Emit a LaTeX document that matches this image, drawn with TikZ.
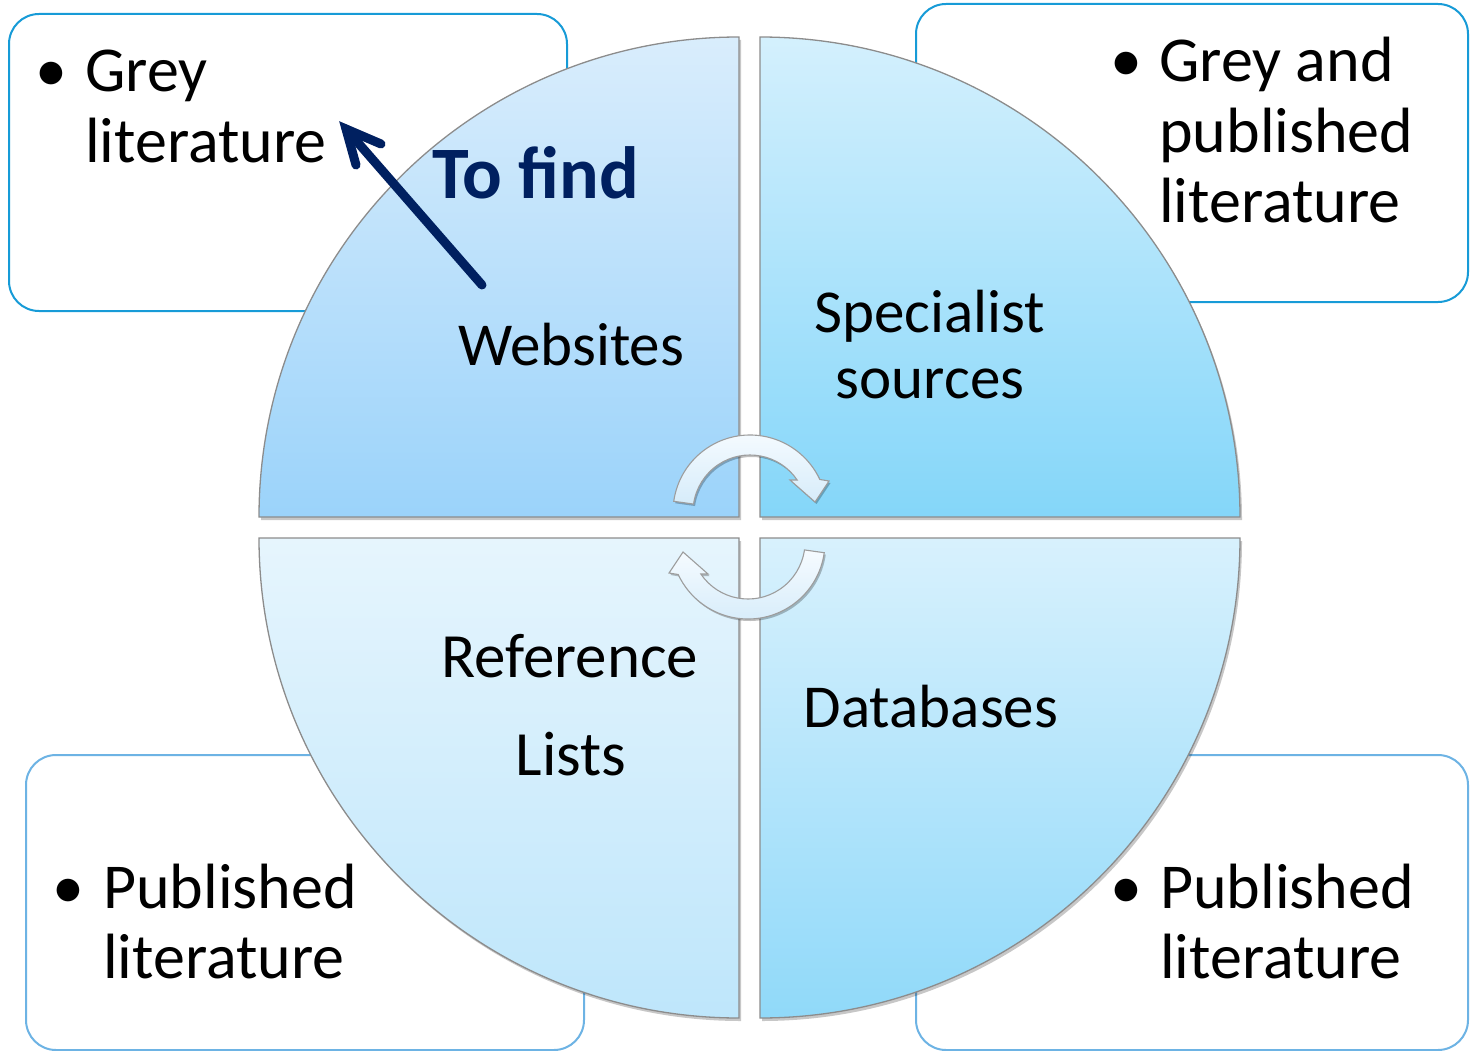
\documentclass[tikz,border=0pt]{standalone}
\usepackage{fontspec}
\setmainfont{Carlito}
\usetikzlibrary{shadows}

\definecolor{edgeA}{HTML}{179BD7}
\definecolor{edgeB}{HTML}{6DB3E4}
\definecolor{navy}{HTML}{002060}
\definecolor{quadline}{HTML}{8C8C8C}
\definecolor{tlTop}{HTML}{D9EDFC}
\definecolor{tlBot}{HTML}{9BD3FA}
\definecolor{trTop}{HTML}{D4F0FD}
\definecolor{trBot}{HTML}{84D6F9}
\definecolor{blTop}{HTML}{E6F5FD}
\definecolor{blBot}{HTML}{BEE6FB}
\definecolor{brTop}{HTML}{D8F1FD}
\definecolor{brBot}{HTML}{90D9F9}
\definecolor{turnTop}{HTML}{F6FBFF}
\definecolor{turnBot}{HTML}{D6ECFA}

\begin{document}
\begin{tikzpicture}[x=1pt,y=-1pt,
  infobox/.style={fill=white, line width=2pt, rounded corners=30pt},
  quad/.style={draw=quadline, line width=1.3pt,
    drop shadow={shadow xshift=2pt, shadow yshift=-3pt, opacity=0.22, fill=black}},
  turnarrow/.style={draw=quadline!85, line width=1.1pt, top color=turnTop, bottom color=turnBot,
    drop shadow={shadow xshift=1.5pt, shadow yshift=-2pt, opacity=0.25, fill=black}},
  lbl/.style={font=\fontsize{61}{61}\selectfont, inner sep=0pt, anchor=base west},
  lblc/.style={lbl, anchor=base},
  boxlbl/.style={lbl, font=\fontsize{64}{64}\selectfont},
  dot/.style={boxlbl, anchor=base},
  findlbl/.style={font=\fontsize{74}{74}\selectfont\bfseries, text=navy, inner sep=0pt, anchor=base west},
  findarrow/.style={draw=navy, line width=9pt, line join=miter, line cap=round},
  turn/.pic={
    \path[turnarrow] (188:77) arc[start angle=188, end angle=335, radius=77]
      -- (79,-31) -- (65,-10) -- (40,-32) -- (325.8:57)
      arc[start angle=325.8, end angle=188, radius=57] -- cycle;
  }
]
\useasboundingbox (0,0) rectangle (1470,1051);
\clip (0,0) rectangle (1470,1051);

% text boxes behind the circle
\path[infobox, draw=edgeA] (9,14) rectangle (567,311);
\path[infobox, draw=edgeA] (916,4) rectangle (1468,302);
\path[infobox, draw=edgeB] (26,755) rectangle (584,1050);
\path[infobox, draw=edgeB] (916,755) rectangle (1468,1050);

% four quarter discs
\path[quad, top color=tlTop, bottom color=tlBot]
  (739,517) -- (259,517) arc[start angle=180, end angle=270, radius=480] -- cycle;
\path[quad, top color=trTop, bottom color=trBot]
  (760,517) -- (760,37) arc[start angle=270, end angle=360, radius=480] -- cycle;
\path[quad, top color=brTop, bottom color=brBot]
  (760,538) -- (1240,538) arc[start angle=0, end angle=90, radius=480] -- cycle;
\path[quad, top color=blTop, bottom color=blBot]
  (739,538) -- (739,1018) arc[start angle=90, end angle=180, radius=480] -- cycle;

% cycle arrows in the middle
\pic at (750,512) {turn};
\pic[rotate=180] at (748,542) {turn};

% box texts
\node[dot] (dotTL) at (51,92) {\textbullet};
\node[boxlbl] (greyA) at (85,92) {Grey};
\node[boxlbl] (greyB) at (85,163) {literature};

\node[dot] (dotTR) at (1126,82) {\textbullet};
\node[boxlbl] (bothA) at (1159,82) {Grey and};
\node[boxlbl] (bothB) at (1159,153) {published};
\node[boxlbl] (bothC) at (1159,223) {literature};

\node[dot] (dotBL) at (68,908) {\textbullet};
\node[boxlbl] (pubLA) at (103,908) {Published};
\node[boxlbl] (pubLB) at (103,978) {literature};

\node[dot] (dotBR) at (1126,908) {\textbullet};
\node[boxlbl] (pubRA) at (1160,908) {Published};
\node[boxlbl] (pubRB) at (1160,978) {literature};

% quadrant texts
\node[findlbl] (find) at (432,199) {To find};
\node[lbl] (web) at (458,365) {Websites};
\node[lblc] (specA) at (930,332) {Specialist};
\node[lblc] (specB) at (930,398) {sources};
\node[lblc, font=\fontsize{63}{63}\selectfont] (refA) at (570,677) {Reference};
\node[lblc, font=\fontsize{63}{63}\selectfont] (refB) at (571,775) {Lists};
\node[lblc] (dbs) at (931,727) {Databases};

% pointer towards grey literature
\coordinate (fstart) at (482,285);
\coordinate (ftip) at (346,129);
\coordinate (fbarbA) at (381,144);
\coordinate (fbarbB) at (356,165);
\draw[findarrow] (fstart) -- (ftip);
\draw[findarrow] (fbarbA) -- (ftip) -- (fbarbB);
\end{tikzpicture}
\end{document}
